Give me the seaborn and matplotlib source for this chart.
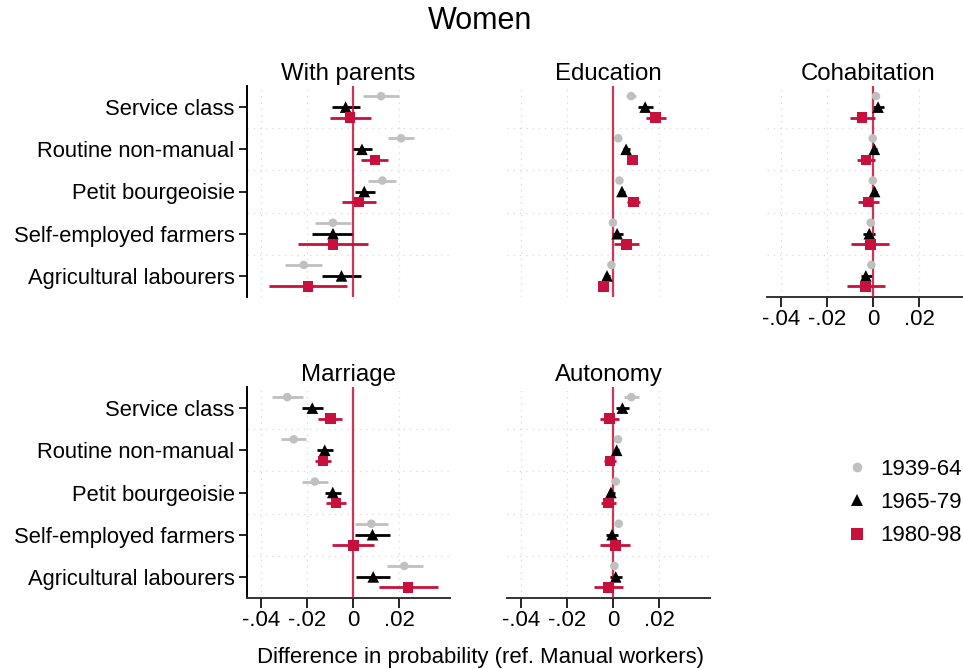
import matplotlib
matplotlib.use("Agg")
import matplotlib.pyplot as plt
from matplotlib.lines import Line2D
import numpy as np
import pandas as pd
import seaborn as sns

sns.set_theme(style="white")
plt.rcParams["font.family"] = ["Liberation Sans", "DejaVu Sans"]
plt.rcParams["text.color"] = "black"
plt.rcParams["xtick.color"] = "black"
plt.rcParams["ytick.color"] = "black"
plt.rcParams["axes.labelcolor"] = "black"

categories = ["Service class", "Routine non-manual", "Petit bourgeoisie",
              "Self-employed farmers", "Agricultural labourers"]
cohorts = ["1939-64", "1965-79", "1980-98"]

# Estimates and 95% bounds, one inner list per cohort (1939-64, 1965-79, 1980-98)
with_parents_est = [[0.0122, 0.0209, 0.0128, -0.0087, -0.0214],
                    [-0.0032, 0.0039, 0.0049, -0.0087, -0.0050],
                    [-0.0013, 0.0096, 0.0026, -0.0087, -0.0196]]
with_parents_lo = [[0.0043, 0.0151, 0.0067, -0.0164, -0.0294],
                   [-0.0093, 0.0000, 0.0007, -0.0177, -0.0135],
                   [-0.0100, 0.0036, -0.0048, -0.0237, -0.0367]]
with_parents_hi = [[0.0200, 0.0267, 0.0187, -0.0010, -0.0133],
                   [0.0032, 0.0083, 0.0094, 0.0002, 0.0036],
                   [0.0077, 0.0154, 0.0099, 0.0064, -0.0026]]

education_est = [[0.0079, 0.0023, 0.0028, 0.0000, -0.0007],
                 [0.0140, 0.0057, 0.0039, 0.0018, -0.0026],
                 [0.0185, 0.0085, 0.0089, 0.0058, -0.0042]]
education_lo = [[0.0055, 0.0013, 0.0018, -0.0010, -0.0017],
                [0.0110, 0.0042, 0.0024, -0.0006, -0.0041],
                [0.0143, 0.0063, 0.0063, 0.0006, -0.0063]]
education_hi = [[0.0102, 0.0033, 0.0038, 0.0010, 0.0003],
                [0.0175, 0.0072, 0.0054, 0.0044, -0.0011],
                [0.0229, 0.0105, 0.0118, 0.0112, -0.0022]]

cohabitation_est = [[0.0013, -0.0001, -0.0001, -0.0010, -0.0007],
                    [0.0022, 0.0006, 0.0007, -0.0016, -0.0031],
                    [-0.0047, -0.0031, -0.0021, -0.0012, -0.0032]]
cohabitation_lo = [[0.0003, -0.0011, -0.0011, -0.0020, -0.0017],
                   [-0.0001, -0.0004, -0.0003, -0.0043, -0.0054],
                   [-0.0100, -0.0068, -0.0063, -0.0094, -0.0115]]
cohabitation_hi = [[0.0023, 0.0009, 0.0009, 0.0000, 0.0003],
                   [0.0049, 0.0016, 0.0017, 0.0010, -0.0004],
                   [0.0007, 0.0007, 0.0025, 0.0069, 0.0051]]

marriage_est = [[-0.0286, -0.0258, -0.0166, 0.0080, 0.0223],
                [-0.0177, -0.0123, -0.0088, 0.0085, 0.0088],
                [-0.0099, -0.0130, -0.0073, 0.0001, 0.0239]]
marriage_lo = [[-0.0353, -0.0311, -0.0222, 0.0009, 0.0147],
               [-0.0222, -0.0156, -0.0123, 0.0010, 0.0015],
               [-0.0152, -0.0164, -0.0117, -0.0090, 0.0111]]
marriage_hi = [[-0.0218, -0.0203, -0.0110, 0.0152, 0.0305],
               [-0.0130, -0.0089, -0.0053, 0.0161, 0.0162],
               [-0.0048, -0.0095, -0.0029, 0.0090, 0.0368]]

autonomy_est = [[0.0080, 0.0022, 0.0012, 0.0025, 0.0006],
                [0.0041, 0.0016, -0.0009, -0.0004, 0.0012],
                [-0.0016, -0.0013, -0.0020, 0.0010, -0.0019]]
autonomy_lo = [[0.0048, 0.0012, 0.0002, 0.0015, -0.0004],
               [0.0013, 0.0004, -0.0023, -0.0030, -0.0015],
               [-0.0055, -0.0038, -0.0051, -0.0057, -0.0082]]
autonomy_hi = [[0.0112, 0.0032, 0.0022, 0.0035, 0.0016],
               [0.0069, 0.0028, 0.0009, 0.0023, 0.0038],
               [0.0026, 0.0015, 0.0015, 0.0076, 0.0045]]

xticks = [-0.04, -0.02, 0, 0.02]
xtick_labels = ["-.04", "-.02", "0", ".02"]

RED = "#C8103C"
GREY = "#C0C0C0"
colors = {"1939-64": GREY, "1965-79": "black", "1980-98": RED}
markers = {"1939-64": "o", "1965-79": "^", "1980-98": "s"}
sizes = {"1939-64": 38, "1965-79": 70, "1980-98": 58}
offsets = {"1939-64": -0.26, "1965-79": 0.0, "1980-98": 0.25}

panels = [
    ("With parents", with_parents_est, with_parents_lo, with_parents_hi),
    ("Education", education_est, education_lo, education_hi),
    ("Cohabitation", cohabitation_est, cohabitation_lo, cohabitation_hi),
    ("Marriage", marriage_est, marriage_lo, marriage_hi),
    ("Autonomy", autonomy_est, autonomy_lo, autonomy_hi),
]


def build_frame(est, lo, hi):
    rows = []
    for ci, coh in enumerate(cohorts):
        for k, cat in enumerate(categories):
            rows.append({"cohort": coh, "category": cat, "pos": k,
                         "est": est[ci][k], "lo": lo[ci][k], "hi": hi[ci][k]})
    df = pd.DataFrame(rows)
    df["y"] = df["pos"] + df["cohort"].map(offsets)
    return df


W, H = 963, 669
fig = plt.figure(figsize=(W / 100, H / 100), dpi=100)

pw, ph = 203, 211
col_left = [247, 507, 767]
row_top = [86, 387]
layout = [(0, 0), (0, 1), (0, 2), (1, 0), (1, 1)]
# bottom-most panel in each column gets the x axis
has_xaxis = {(0, 2), (1, 0), (1, 1)}

for (title, est, lo, hi), (r, c) in zip(panels, layout):
    ax = fig.add_axes([col_left[c] / W, 1 - (row_top[r] + ph) / H, pw / W, ph / H])
    df = build_frame(est, lo, hi)

    # grid
    for xv in xticks:
        if xv != 0:
            ax.axvline(xv, color="#D8D8D8", lw=0.9, ls=(0, (1, 4)), zorder=0)
    for yb in np.arange(0.5, len(categories) - 0.5, 1.0):
        ax.axhline(yb, color="#D8D8D8", lw=0.9, ls=(0, (1, 4)), zorder=0)

    for coh in cohorts:
        sub = df[df["cohort"] == coh]
        ax.hlines(sub["y"], sub["lo"], sub["hi"], color=colors[coh], lw=2.0, zorder=2)

    ax.axvline(0, color=RED, lw=1.6, alpha=0.85, zorder=3)

    for coh in cohorts:
        sub = df[df["cohort"] == coh]
        sns.scatterplot(data=sub, x="est", y="y", color=colors[coh], marker=markers[coh],
                        s=sizes[coh], edgecolor="none", linewidth=0, ax=ax, zorder=4,
                        legend=False)

    ax.set_xlim(-0.0461, 0.0422)
    ax.set_ylim(len(categories) - 0.5, -0.5)
    ax.set_xlabel("")
    ax.set_ylabel("")
    ax.set_title(title, fontsize=17.3, pad=4, color="black")

    for s in ["top", "right"]:
        ax.spines[s].set_visible(False)

    if c == 0:
        ax.spines["left"].set_color("black")
        ax.spines["left"].set_linewidth(1.4)
        ax.set_yticks(range(len(categories)))
        ax.set_yticklabels(categories, fontsize=15.8)
        ax.tick_params(axis="y", length=6, width=1.2, color="black", pad=3, left=True)
    else:
        ax.spines["left"].set_visible(False)
        ax.set_yticks([])

    if (r, c) in has_xaxis:
        ax.spines["bottom"].set_color("#333333")
        ax.spines["bottom"].set_linewidth(1.4)
        ax.set_xticks(xticks)
        ax.set_xticklabels(xtick_labels, fontsize=16)
        ax.tick_params(axis="x", length=7, width=1.2, color="black", pad=2, bottom=True)
    else:
        ax.spines["bottom"].set_visible(False)
        ax.set_xticks([])

fig.text(480 / W, 1 - 21 / H, "Women", ha="center", va="center", fontsize=22)
fig.text(480 / W, 1 - 657 / H, "Difference in probability (ref. Manual workers)",
         ha="center", va="center", fontsize=15.9)

handles = [Line2D([], [], ls="none", marker=markers[c], color=colors[c],
                  markersize=ms, markeredgewidth=0)
           for c, ms in zip(cohorts, [7, 9, 8])]
fig.legend(handles, cohorts, loc="upper left", bbox_to_anchor=(831 / W, 1 - 450 / H),
           frameon=False, fontsize=16, handletextpad=0.3, labelspacing=0.55,
           handlelength=1.5, borderaxespad=0)

fig.savefig("out.png", dpi=100)
